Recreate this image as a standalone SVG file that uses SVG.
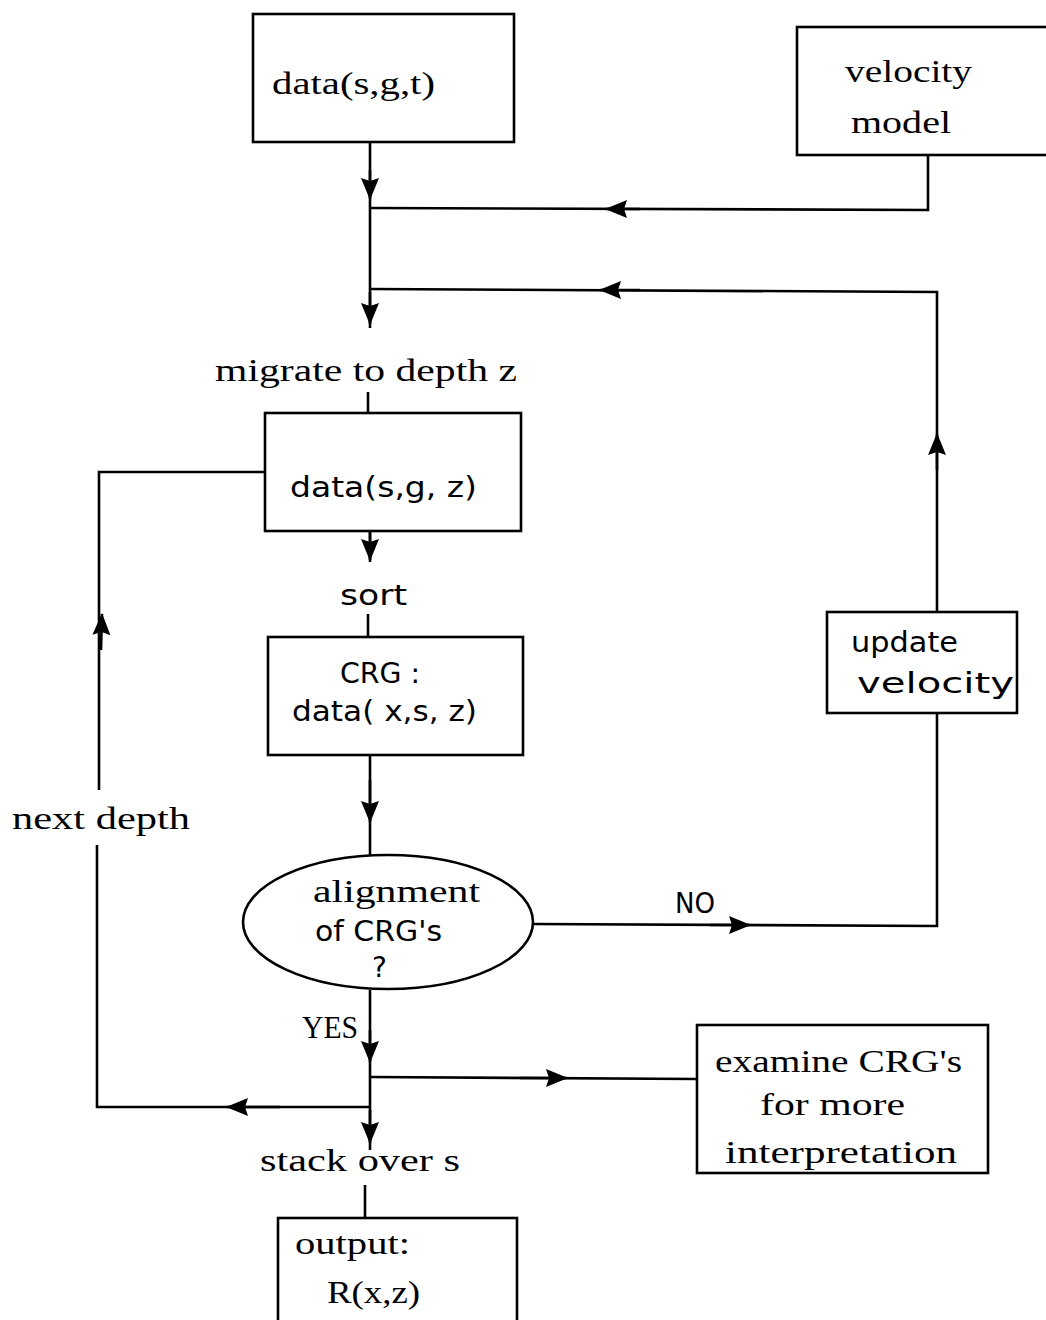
<svg xmlns="http://www.w3.org/2000/svg" width="1046" height="1320" viewBox="0 0 1046 1320">
<style>
.box{fill:#fff;stroke:#000;stroke-width:2.6}
.ln{fill:none;stroke:#000;stroke-width:2.6}
.ser{font-family:"Liberation Serif","DejaVu Serif",serif;font-size:32px;fill:#000}
.san{font-family:"DejaVu Sans","Liberation Sans",sans-serif;font-size:28px;fill:#000}
</style>
<defs>
<marker id="ah" viewBox="0 0 22 20" refX="21" refY="10" markerUnits="userSpaceOnUse" markerWidth="22" markerHeight="20" orient="auto">
<path d="M0,1 L22,10 L0,19 L3,10 z" fill="#000"/>
</marker>
</defs>
<rect width="1046" height="1320" fill="#fff"/>
<g id="connectors">
<path class="ln" d="M370 142 L370 328"/>
<path class="ln" d="M370 208 L928 210 L928 155"/>
<path class="ln" d="M370 289 L937 292 L937 612"/>
<path class="ln" d="M368 392 L368 413"/>
<path class="ln" d="M265 472 L99 472 L99 790"/>
<path class="ln" d="M97 845 L97 1107 L370 1107"/>
<path class="ln" d="M370 531 L370 562"/>
<path class="ln" d="M368 614 L368 637"/>
<path class="ln" d="M370 755 L370 855"/>
<path class="ln" d="M532 924 L937 926 L937 713"/>
<path class="ln" d="M370 990 L370 1150"/>
<path class="ln" d="M370 1077 L697 1079"/>
<path class="ln" d="M365 1185 L365 1218"/>
<path class="ln" d="M370 170 L370 199" marker-end="url(#ah)"/>
<path class="ln" d="M370 292 L370 324" marker-end="url(#ah)"/>
<path class="ln" d="M640 209 L606 209" marker-end="url(#ah)"/>
<path class="ln" d="M640 290 L600 290" marker-end="url(#ah)"/>
<path class="ln" d="M370 530 L370 560" marker-end="url(#ah)"/>
<path class="ln" d="M937 470 L937 434" marker-end="url(#ah)"/>
<path class="ln" d="M101 650 L102 614" marker-end="url(#ah)"/>
<path class="ln" d="M370 780 L370 822" marker-end="url(#ah)"/>
<path class="ln" d="M710 925 L750 925" marker-end="url(#ah)"/>
<path class="ln" d="M370 1030 L370 1062" marker-end="url(#ah)"/>
<path class="ln" d="M520 1078 L567 1078" marker-end="url(#ah)"/>
<path class="ln" d="M280 1107 L227 1107" marker-end="url(#ah)"/>
<path class="ln" d="M370 1110 L370 1143" marker-end="url(#ah)"/>
</g>
<g id="node-data-sgt">
<rect class="box" x="253" y="14" width="261" height="128"/>
<text class="ser" x="272" y="94" textLength="163" lengthAdjust="spacingAndGlyphs">data(s,g,t)</text>
</g>
<g id="node-velocity-model">
<rect class="box" x="797" y="27" width="260" height="128"/>
<text class="ser" x="845" y="82" textLength="127" lengthAdjust="spacingAndGlyphs">velocity</text>
<text class="ser" x="851" y="133" textLength="100" lengthAdjust="spacingAndGlyphs">model</text>
</g>
<g id="label-migrate">
<text class="ser" x="215" y="381" textLength="302" lengthAdjust="spacingAndGlyphs">migrate to depth z</text>
</g>
<g id="node-data-sgz">
<rect class="box" x="265" y="413" width="256" height="118"/>
<text class="san" x="290" y="497" textLength="187" lengthAdjust="spacingAndGlyphs">data(s,g, z)</text>
</g>
<g id="label-sort">
<text class="san" x="340" y="605" textLength="67" lengthAdjust="spacingAndGlyphs">sort</text>
</g>
<g id="node-crg">
<rect class="box" x="268" y="637" width="255" height="118"/>
<text class="san" x="340" y="683" textLength="80" lengthAdjust="spacingAndGlyphs">CRG :</text>
<text class="san" x="292" y="721" textLength="185" lengthAdjust="spacingAndGlyphs">data( x,s, z)</text>
</g>
<g id="node-update-velocity">
<rect class="box" x="827" y="612" width="190" height="101"/>
<text class="san" x="851" y="652" textLength="107" lengthAdjust="spacingAndGlyphs">update</text>
<text class="san" x="857" y="693" textLength="157" lengthAdjust="spacingAndGlyphs">velocity</text>
</g>
<g id="label-next-depth">
<text class="ser" x="12" y="829" textLength="178" lengthAdjust="spacingAndGlyphs">next depth</text>
</g>
<g id="node-alignment">
<ellipse class="box" cx="388" cy="922" rx="145" ry="67"/>
<text class="ser" x="313" y="902" textLength="167" lengthAdjust="spacingAndGlyphs">alignment</text>
<text class="san" x="315" y="941" textLength="127" lengthAdjust="spacingAndGlyphs">of  CRG's</text>
<text class="san" x="372" y="977">?</text>
</g>
<g id="label-no">
<text class="san" x="675" y="913" textLength="40" lengthAdjust="spacingAndGlyphs">NO</text>
</g>
<g id="label-yes">
<text class="ser" x="302" y="1038" textLength="56" lengthAdjust="spacingAndGlyphs">YES</text>
</g>
<g id="node-examine">
<rect class="box" x="697" y="1025" width="291" height="148"/>
<text class="ser" x="715" y="1072" textLength="247" lengthAdjust="spacingAndGlyphs">examine  CRG's</text>
<text class="ser" x="760" y="1115" textLength="145" lengthAdjust="spacingAndGlyphs">for more</text>
<text class="ser" x="725" y="1163" textLength="232" lengthAdjust="spacingAndGlyphs">interpretation</text>
</g>
<g id="label-stack">
<text class="ser" x="260" y="1171" textLength="200" lengthAdjust="spacingAndGlyphs">stack over s</text>
</g>
<g id="node-output">
<rect class="box" x="278" y="1218" width="239" height="110"/>
<text class="ser" x="295" y="1254" textLength="115" lengthAdjust="spacingAndGlyphs">output:</text>
<text class="ser" x="327" y="1303" textLength="93" lengthAdjust="spacingAndGlyphs">R(x,z)</text>
</g>
</svg>
